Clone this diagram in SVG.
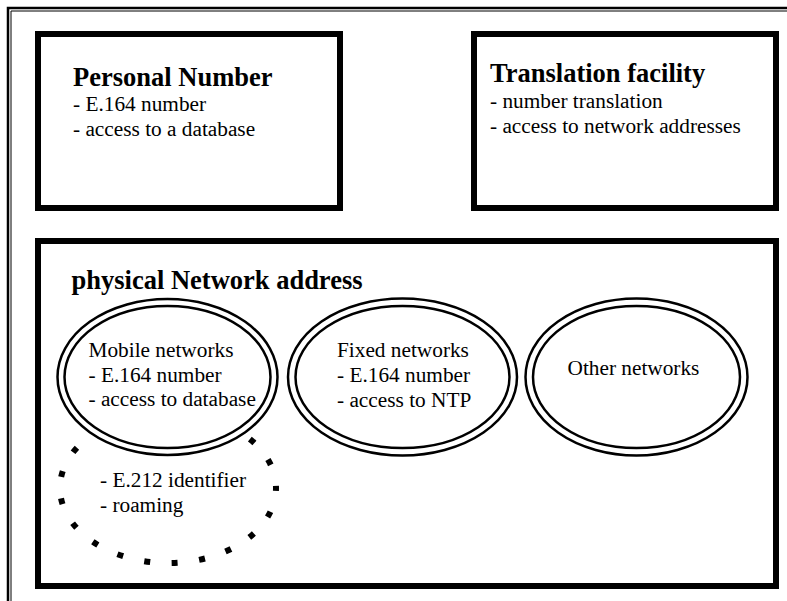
<svg xmlns="http://www.w3.org/2000/svg" width="787" height="601" viewBox="0 0 787 601">
<style>
.box{fill:#fff;stroke:#000;stroke-width:6}
.ell{fill:#fff;stroke:#000;stroke-width:2.5}
.title{font-family:"Liberation Serif","Times New Roman",serif;font-weight:bold;font-size:26.5px;fill:#000}
.body{font-family:"Liberation Serif","Times New Roman",serif;font-size:21.3px;fill:#000}
.frame{fill:none;stroke:#000}
</style>
<rect width="787" height="601" fill="#fff"/>
<g id="frame">
<path class="frame" d="M8,601 V8 H787" stroke-width="2.5"/>
<path class="frame" d="M11,601 V11 H787" stroke-width="1" stroke="#666"/>
</g>
<g id="personal-number">
<rect class="box" x="38" y="34" width="302" height="174"/>
<text class="title" x="73" y="85.5">Personal Number</text>
<text class="body" x="73" y="111">- E.164 number</text>
<text class="body" x="73" y="135.5">- access to a database</text>
</g>
<g id="translation-facility">
<rect class="box" x="474" y="34" width="302" height="174"/>
<text class="title" x="490" y="82">Translation facility</text>
<text class="body" x="490" y="107.5">- number translation</text>
<text class="body" x="490" y="132.5">- access to network addresses</text>
</g>
<g id="physical-network-address">
<rect class="box" x="38" y="241" width="738" height="345"/>
<text class="title" x="71.5" y="288.5">physical Network address</text>
</g>
<g id="connectors"></g>
<g id="roaming">
<ellipse cx="168" cy="488" rx="108" ry="75" fill="none" stroke="#000" stroke-width="6" stroke-dasharray="6 21.6" stroke-dashoffset="3"/>
<text class="body" x="100" y="487">- E.212 identifier</text>
<text class="body" x="100" y="512">- roaming</text>
</g>
<g id="mobile-networks">
<ellipse class="ell" cx="167.5" cy="377" rx="110" ry="78"/>
<ellipse class="ell" cx="167.5" cy="377" rx="103" ry="71"/>
<text class="body" x="88.5" y="357">Mobile networks</text>
<text class="body" x="88.5" y="381.5">- E.164 number</text>
<text class="body" x="88.5" y="406">- access to database</text>
</g>
<g id="fixed-networks">
<ellipse class="ell" cx="402.5" cy="377" rx="114.5" ry="78.5"/>
<ellipse class="ell" cx="402.5" cy="377" rx="107" ry="71"/>
<text class="body" x="337" y="357">Fixed networks</text>
<text class="body" x="337" y="381.5">- E.164 number</text>
<text class="body" x="337" y="406.5">- access to NTP</text>
</g>
<g id="other-networks">
<ellipse class="ell" cx="636.5" cy="377" rx="111" ry="78.5"/>
<ellipse class="ell" cx="636.5" cy="377" rx="103.5" ry="71"/>
<text class="body" x="567.5" y="375">Other networks</text>
</g>
</svg>
